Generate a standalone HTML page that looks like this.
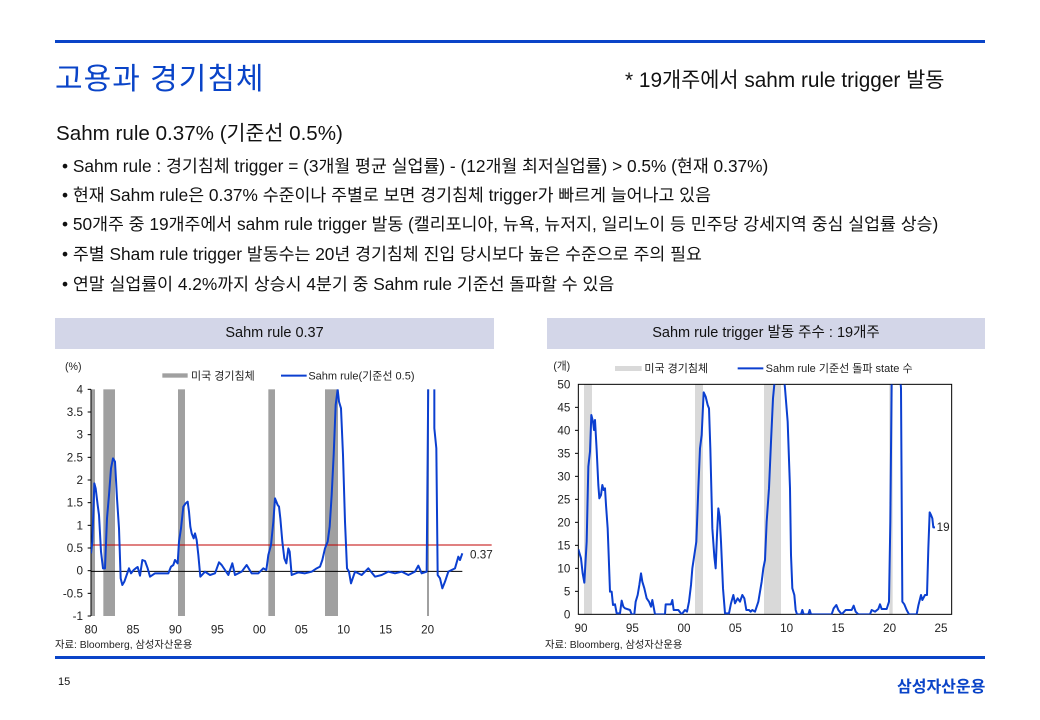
<!DOCTYPE html><html><head><meta charset="utf-8"><style>
body{margin:0;width:1040px;height:720px;background:#fff;position:relative;font-family:"Liberation Sans","Noto Sans CJK KR",sans-serif;overflow:hidden}
.a{position:absolute;white-space:nowrap}
.bl{font-size:17.3px;color:#111}
.hd{position:absolute;top:318px;height:31px;background:#d3d6e8;font-size:14.5px;text-align:center;line-height:31px;color:#111}
svg text{font-family:"Liberation Sans","Noto Sans CJK KR",sans-serif;fill:#222}
</style></head><body>
<div class="a" style="left:55px;top:40px;width:930px;height:3px;background:#0a44c8"></div>
<div class="a" style="left:55px;top:54px;font-size:30px;color:#0a44c8;letter-spacing:1px">고용과 경기침체</div>
<div class="a" style="left:625px;top:63px;font-size:20.8px;color:#111">* 19개주에서 sahm rule trigger 발동</div>
<div class="a" style="left:56px;top:116px;font-size:20.6px;color:#111">Sahm rule 0.37% (기준선 0.5%)</div>
<div class="a bl" style="left:62px;top:152px">• Sahm rule : 경기침체 trigger = (3개월 평균 실업률) - (12개월 최저실업률) &gt; 0.5% (현재 0.37%)</div>
<div class="a bl" style="left:62px;top:181px">• 현재 Sahm rule은 0.37% 수준이나 주별로 보면 경기침체 trigger가 빠르게 늘어나고 있음</div>
<div class="a bl" style="left:62px;top:210px">• 50개주 중 19개주에서 sahm rule trigger 발동 (캘리포니아, 뉴욕, 뉴저지, 일리노이 등 민주당 강세지역 중심 실업률 상승)</div>
<div class="a bl" style="left:62px;top:240px">• 주별 Sham rule trigger 발동수는 20년 경기침체 진입 당시보다 높은 수준으로 주의 필요</div>
<div class="a bl" style="left:62px;top:270px">• 연말 실업률이 4.2%까지 상승시 4분기 중 Sahm rule 기준선 돌파할 수 있음</div>
<div class="hd" style="left:55px;width:439px">Sahm rule 0.37</div>
<div class="hd" style="left:547px;width:438px">Sahm rule trigger 발동 주수 : 19개주</div>

<svg class="a" style="left:55px;top:355px" width="440" height="300" viewBox="0 0 1320 900">
<defs><clipPath id="c1"><rect x="108" y="103" width="1200" height="680"/></clipPath></defs>
<g fill="#a0a0a0"><rect x="108" y="103" width="12" height="680"/><rect x="145" y="103" width="35" height="680"/><rect x="369" y="103" width="21" height="680"/><rect x="640" y="103" width="20" height="680"/><rect x="810" y="103" width="39" height="680"/><rect x="1116" y="103" width="6" height="680"/></g>
<line x1="108" y1="570" x2="1310" y2="570" stroke="#c00000" stroke-width="3"/>
<line x1="108" y1="649" x2="1222" y2="649" stroke="#000" stroke-width="3"/>
<line x1="108" y1="103" x2="108" y2="783" stroke="#000" stroke-width="3"/>
<g stroke="#000" stroke-width="3"><line x1="98" y1="103" x2="108" y2="103"/><line x1="98" y1="171" x2="108" y2="171"/><line x1="98" y1="239" x2="108" y2="239"/><line x1="98" y1="307" x2="108" y2="307"/><line x1="98" y1="375" x2="108" y2="375"/><line x1="98" y1="443" x2="108" y2="443"/><line x1="98" y1="511" x2="108" y2="511"/><line x1="98" y1="579" x2="108" y2="579"/><line x1="98" y1="647" x2="108" y2="647"/><line x1="98" y1="715" x2="108" y2="715"/><line x1="98" y1="783" x2="108" y2="783"/></g>
<polyline clip-path="url(#c1)" fill="none" stroke="#0b3fd0" stroke-width="6" stroke-linejoin="round" points="108,595 112,560 118,385 122,400 128,450 132,480 138,590 144,640 150,640 156,490 162,420 168,340 174,310 180,320 186,430 192,520 197,670 202,690 208,680 215,660 222,640 228,655 236,645 242,640 248,636 255,662 262,615 270,618 278,640 285,665 300,655 320,655 340,655 348,635 355,630 360,615 368,625 372,560 378,520 385,455 392,445 398,440 402,470 406,515 410,535 416,550 420,535 425,555 430,600 436,665 450,650 465,660 480,655 492,622 500,630 510,645 520,660 532,625 540,660 560,650 575,630 590,655 610,655 625,640 634,645 640,600 648,570 655,500 660,430 664,440 668,450 672,455 676,490 682,560 688,610 694,625 700,580 704,590 710,660 730,652 750,655 770,650 785,640 795,635 802,615 810,580 818,560 824,515 830,420 836,300 842,150 848,103 852,140 858,160 864,300 870,500 876,640 882,650 888,685 900,650 920,660 940,640 960,665 980,660 1000,650 1020,655 1040,650 1060,660 1080,650 1090,632 1100,655 1115,650 1118,300 1120,60 1138,60 1138,220 1144,280 1148,660 1155,670 1162,700 1170,680 1180,650 1200,640 1210,605 1215,615 1222,595"/>
<g font-size="35" text-anchor="end"><text x="84" y="115">4</text><text x="84" y="183">3.5</text><text x="84" y="251">3</text><text x="84" y="319">2.5</text><text x="84" y="387">2</text><text x="84" y="455">1.5</text><text x="84" y="523">1</text><text x="84" y="591">0.5</text><text x="84" y="659">0</text><text x="84" y="727">-0.5</text><text x="84" y="795">-1</text></g>
<g font-size="35" text-anchor="middle"><text x="108" y="836">80</text><text x="234" y="836">85</text><text x="361" y="836">90</text><text x="487" y="836">95</text><text x="613" y="836">00</text><text x="739" y="836">05</text><text x="866" y="836">10</text><text x="992" y="836">15</text><text x="1118" y="836">20</text></g>
<text x="1245" y="610" font-size="35">0.37</text>
<text x="30" y="45" font-size="32">(%)</text>
<rect x="322" y="55" width="76" height="13" fill="#a0a0a0"/><text x="408" y="73" font-size="33">미국 경기침체</text>
<line x1="678" y1="62" x2="755" y2="62" stroke="#0b3fd0" stroke-width="6"/><text x="760" y="73" font-size="33">Sahm rule(기준선 0.5)</text>
<text x="0" y="879" font-size="31">자료: Bloomberg, 삼성자산운용</text>
</svg>

<svg class="a" style="left:545px;top:355px" width="440" height="300" viewBox="0 0 1320 900">
<defs><clipPath id="c2"><rect x="100" y="88" width="1120" height="690"/></clipPath></defs>
<g fill="#d9d9d9"><rect x="117" y="88" width="24" height="690"/><rect x="450" y="88" width="24" height="690"/><rect x="657" y="88" width="51" height="690"/><rect x="1033" y="88" width="10" height="690"/></g>
<rect x="100" y="88" width="1120" height="690" fill="none" stroke="#000" stroke-width="3"/>
<g stroke="#000" stroke-width="3"><line x1="90" y1="157" x2="100" y2="157"/><line x1="90" y1="226" x2="100" y2="226"/><line x1="90" y1="295" x2="100" y2="295"/><line x1="90" y1="364" x2="100" y2="364"/><line x1="90" y1="433" x2="100" y2="433"/><line x1="90" y1="502" x2="100" y2="502"/><line x1="90" y1="571" x2="100" y2="571"/><line x1="90" y1="640" x2="100" y2="640"/><line x1="90" y1="709" x2="100" y2="709"/></g>
<polyline clip-path="url(#c2)" fill="none" stroke="#0b3fd0" stroke-width="6" stroke-linejoin="round" points="100,583 108,610 113,655 118,683 125,560 130,335 135,290 139,180 144,200 147,225 150,195 155,285 160,390 163,430 168,420 172,390 176,405 180,400 183,450 188,520 191,600 195,710 200,710 204,750 210,748 215,775 225,775 230,737 235,755 240,760 255,765 260,778 268,778 272,740 278,720 283,690 288,655 292,680 298,700 305,730 312,740 318,755 322,735 330,778 360,778 362,748 378,748 382,735 386,765 400,765 410,778 420,765 426,770 432,740 438,690 442,640 448,600 454,560 460,400 465,280 470,240 476,112 482,125 488,150 492,160 496,280 502,520 508,605 512,640 516,540 520,460 524,485 528,560 534,700 540,775 552,775 558,745 565,720 570,745 578,730 585,740 592,720 598,730 604,765 612,765 617,770 622,765 630,770 640,740 650,680 655,640 660,615 665,500 672,400 678,260 684,130 688,88 700,60 716,60 720,100 728,200 735,400 738,600 742,700 748,720 752,765 756,778 768,778 772,765 776,778 790,778 794,765 798,778 860,778 866,760 874,750 880,765 890,778 902,765 920,765 926,752 932,770 940,778 975,778 980,765 990,770 1000,762 1005,748 1010,762 1025,762 1032,740 1036,500 1040,80 1045,60 1065,60 1068,100 1072,740 1078,748 1085,765 1092,778 1115,778 1120,752 1128,720 1132,735 1140,720 1146,720 1150,580 1154,472 1158,480 1162,490 1165,517 1170,517"/>
<g font-size="35" text-anchor="end"><text x="76" y="100">50</text><text x="76" y="169">45</text><text x="76" y="238">40</text><text x="76" y="307">35</text><text x="76" y="376">30</text><text x="76" y="445">25</text><text x="76" y="514">20</text><text x="76" y="583">15</text><text x="76" y="652">10</text><text x="76" y="721">5</text><text x="76" y="790">0</text></g>
<g font-size="35" text-anchor="middle"><text x="108" y="831">90</text><text x="262" y="831">95</text><text x="417" y="831">00</text><text x="571" y="831">05</text><text x="725" y="831">10</text><text x="879" y="831">15</text><text x="1034" y="831">20</text><text x="1188" y="831">25</text></g>
<text x="1175" y="528" font-size="35">19</text>
<text x="25" y="43" font-size="32">(개)</text>
<rect x="210" y="33" width="80" height="15" fill="#d9d9d9"/><text x="298" y="51" font-size="33">미국 경기침체</text>
<line x1="578" y1="40" x2="655" y2="40" stroke="#0b3fd0" stroke-width="6"/><text x="662" y="51" font-size="33">Sahm rule 기준선 돌파 state 수</text>
<text x="0" y="879" font-size="31">자료: Bloomberg, 삼성자산운용</text>
</svg>

<div class="a" style="left:55px;top:656px;width:930px;height:3px;background:#0a44c8"></div>
<div class="a" style="left:58px;top:676px;font-size:11px;color:#111">15</div>
<div class="a" style="left:897px;top:673px;font-size:16px;font-weight:bold;color:#0a44c8">삼성자산운용</div>
</body></html>
